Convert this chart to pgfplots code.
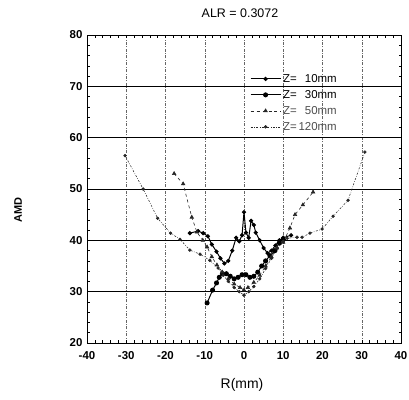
\documentclass[border=0pt]{standalone}
\usepackage{pgfplots}
\pgfplotsset{compat=1.18}
\usepackage{fontspec}
\setmainfont{Liberation Sans}
\begin{document}
\begin{tikzpicture}
\path[use as bounding box] (0,0) rectangle (409bp,400bp);
\begin{axis}[
  at={(87bp,57bp)}, anchor=south west,
  scale only axis, width=314bp, height=308bp,
  xmin=-40, xmax=40, ymin=20, ymax=80,
  xtick={-40,-30,...,40}, ytick={20,30,...,80},
  minor x tick num=4, minor y tick num=4,
  tick align=inside, tick pos=both,
  major tick length=3bp, minor tick length=2.5bp,
  every tick/.style={black, line width=0.5pt},
  xmajorgrids, ymajorgrids,
  x grid style={black!60, line width=0.5pt, dash pattern=on 3pt off 1.5pt on 0.8pt off 1.5pt},
  y grid style={black, line width=0.8pt},
  axis line style={black, line width=0.7pt},
  /pgf/number format/assume math mode=true,
  ticklabel style={font=\bfseries\fontsize{11.5}{12}\selectfont},
  xticklabel style={yshift=-5bp},
  yticklabel style={xshift=-1bp},
  legend style={at={(axis cs:1.5,72.8)}, anchor=north west, draw=none, fill=none,
    font=\fontsize{11.5}{12}\selectfont, row sep=2.5pt, inner sep=0pt,
    /tikz/every even column/.append style={column sep=2pt}},
  legend cell align=left,
  legend image code/.code={\draw[mark repeat=2,mark phase=2] plot coordinates {(0bp,0bp) (15bp,0bp) (30bp,0bp)};},
]
% Z = 10 mm
\addplot[black, line width=1pt, mark=*, mark size=1.6pt] coordinates {
(-13.8,41.4) (-11.7,41.8) (-10.4,41.4) (-9.2,40.8) (-8.2,39.2) (-7,37.8) (-6,36.5) (-5,35.5)
(-4,36) (-3,38) (-2,40.5) (-1.2,39.8) (-0.5,41) (0,45.5) (0.5,41.5) (1.2,40.5) (1.8,43.8)
(2.5,43) (3,41.5) (4,40) (5,38.5) (6,37.5) (7,38) (8,39) (9,40) (10,40.5) (12,41)
};
\addlegendentry{Z=\makebox[40bp][r]{10mm}}
% Z = 30 mm
\addplot[black, line width=1pt, mark=*, mark size=2pt] coordinates {
(-9.4,27.8) (-8,30.3) (-7,31.7) (-6.3,32.8) (-5.5,33.5) (-4.5,33.5) (-3.5,33) (-2.5,32.5)
(-1.5,32.8) (-0.5,33.3) (0.5,33.3) (1.5,32.8) (2.5,33) (3.5,33.8) (4.5,35) (5.5,36)
(6.6,37) (7.9,38) (9,39.5) (10,40.2)
};
\addlegendentry{Z=\makebox[40bp][r]{30mm}}
% Z = 50 mm
\addplot[black!85, line width=0.6pt, dashed, mark=triangle*, mark size=2pt, mark options={solid}] coordinates {
(-17.8,53) (-15.5,51) (-13.3,44.5) (-12,41.6) (-10.5,40) (-9.4,38.7) (-8.2,36.8) (-6.9,35.2)
(-5.5,33.8) (-4,32.5) (-2.5,31.5) (-1,30.8) (0,30.3) (1,30.8) (2.5,31.8) (4,33.2) (5.5,35)
(7,36.8) (8.4,38.5) (10,39.6) (11.7,42.4) (13,45) (15,46.9) (17.6,49.4)
};
\addlegendentry{\color{black!70}Z=\makebox[40bp][r]{50mm}}
% Z = 120 mm
\addplot[black!85, line width=0.55pt, dash pattern=on 2pt off 1.5pt on 0.6pt off 1.5pt, mark=*, mark size=1.4pt, mark options={solid}] coordinates {
(-30.3,56.5) (-25.7,50) (-22,44.3) (-18.7,41.4) (-16.3,40.2) (-13.8,38.1) (-11.2,37.3)
(-8.7,36.1) (-6.6,34.6) (-5.3,33.2) (-4,32) (-2.5,30.8) (-1.2,30) (0,29.3) (1.2,30)
(2.5,31) (4,32.5) (5.5,34.5) (7,36.5) (8.5,38.5) (10,39.8) (11,40.4) (13.5,40.6)
(14.8,40.6) (16.8,41.4) (19.9,42.2) (22.7,44.7) (26.5,47.8) (30.8,57.2)
};
\addlegendentry{\color{black!70}Z=\makebox[40bp][r]{120mm}}
\end{axis}
\node[font=\fontsize{12.5}{14}\selectfont] at (240bp,387bp) {ALR = 0.3072};
\node[font=\fontsize{14}{16}\selectfont] at (242bp,15bp) {R(mm)};
\node[font=\bfseries\fontsize{11}{12}\selectfont, rotate=90] at (18bp,190bp) {AMD};
\end{tikzpicture}
\end{document}
